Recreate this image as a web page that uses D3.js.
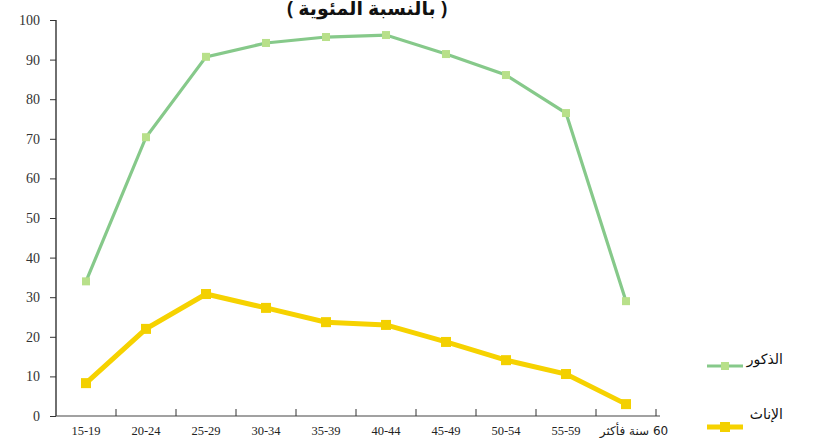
<!DOCTYPE html>
<html><head><meta charset="utf-8">
<script src="https://cdn.jsdelivr.net/npm/d3@7"></script>
<style>body{margin:0;background:#fff}svg{display:block}</style>
</head><body>
<script>
const categories = ["15-19","20-24","25-29","30-34","35-39","40-44","45-49","50-54","55-59","60 سنة فأكثر"];
const males = [34, 70.4, 90.7, 94.2, 95.7, 96.2, 91.4, 86.1, 76.5, 29];
const females = [8.3, 22, 30.8, 27.3, 23.7, 23, 18.7, 14.1, 10.6, 3];
const yTicks = [0,10,20,30,40,50,60,70,80,90,100];
const title = "( بالنسبة المئوية )";
const seriesNames = ["الذكور", "الإناث"];

const W = 826, H = 438;
const svg = d3.select("body").append("svg").attr("width", W).attr("height", H);
const x = d3.scaleBand().domain(categories).range([56, 656]);
const y = d3.scaleLinear().domain([0, 100]).range([416, 20]);
const serif = "'Liberation Serif','DejaVu Serif',serif";

svg.append("text").attr("x", 367).attr("y", 15).attr("text-anchor", "middle")
  .attr("font-family", "'Noto Sans','DejaVu Sans',sans-serif").attr("font-size", 19).attr("font-weight", "bold")
  .attr("direction", "rtl").attr("fill", "#111").text(title);

// y axis
const ya = svg.append("g").attr("transform", "translate(56,0)")
  .call(d3.axisLeft(y).tickValues(yTicks).tickSize(6).tickPadding(10));
ya.attr("font-family", serif);
ya.select(".domain").attr("stroke", "#222").attr("stroke-width", 1.3).attr("d", "M0,20V416");
ya.selectAll(".tick line").attr("stroke", "#333");
ya.selectAll(".tick text").style("font-family", serif).attr("font-size", 14).attr("fill", "#333");

// x axis
const xa = svg.append("g").attr("transform", "translate(0,416)")
  .call(d3.axisBottom(x).tickSize(0).tickPadding(0));
xa.select(".domain").attr("stroke", "#444").attr("stroke-width", 1.2).attr("d", "M56,0H660");
xa.selectAll(".tick text").style("font-family", serif).attr("font-size", 12.5).attr("fill", "#222")
  .attr("dy", null).attr("y", 19);
xa.selectAll(".tick").filter(d => d === categories[categories.length-1]).select("text")
  .style("font-family", "'DejaVu Sans',sans-serif").attr("font-size", 12).attr("direction", "rtl")
  .attr("text-anchor", "middle").attr("dx", "8");
// boundary ticks
svg.append("g").selectAll("line").data(categories).join("line")
  .attr("x1", (d,i) => 56 + x.step()*(i+1)).attr("x2", (d,i) => 56 + x.step()*(i+1))
  .attr("y1", 409).attr("y2", 416).attr("stroke", "#333");

const line = d3.line().x((d,i) => x(categories[i]) + x.bandwidth()/2).y(d => y(d));

svg.append("path").datum(males).attr("d", line).attr("fill", "none")
  .attr("stroke", "#86c98a").attr("stroke-width", 3.2);
svg.append("g").selectAll("rect").data(males).join("rect")
  .attr("x", (d,i) => x(categories[i]) + x.bandwidth()/2 - 4).attr("y", d => y(d) - 4)
  .attr("width", 8).attr("height", 8).attr("fill", "#b8e08a");

svg.append("path").datum(females).attr("d", line).attr("fill", "none")
  .attr("stroke", "#f6d200").attr("stroke-width", 5);
svg.append("g").selectAll("rect").data(females).join("rect")
  .attr("x", (d,i) => x(categories[i]) + x.bandwidth()/2 - 5).attr("y", d => y(d) - 5)
  .attr("width", 10).attr("height", 10).attr("fill", "#f3d000");

// legend
const leg = [{n: seriesNames[0], c: "#86c98a", m: "#b8e08a", w: 3, s: 8, y: 366, ty: 364},
             {n: seriesNames[1], c: "#f6d200", m: "#f3d000", w: 5, s: 10, y: 427, ty: 419}];
leg.forEach(l => {
  svg.append("line").attr("x1", 707).attr("x2", 743).attr("y1", l.y).attr("y2", l.y)
    .attr("stroke", l.c).attr("stroke-width", l.w);
  svg.append("rect").attr("x", 725 - l.s/2).attr("y", l.y - l.s/2).attr("width", l.s).attr("height", l.s).attr("fill", l.m);
  svg.append("text").attr("x", 783).attr("y", l.ty).attr("text-anchor", "end")
    .attr("font-family", "'DejaVu Sans',sans-serif").attr("font-size", 14).attr("fill", "#111").text(l.n);
});
</script>
</body></html>
